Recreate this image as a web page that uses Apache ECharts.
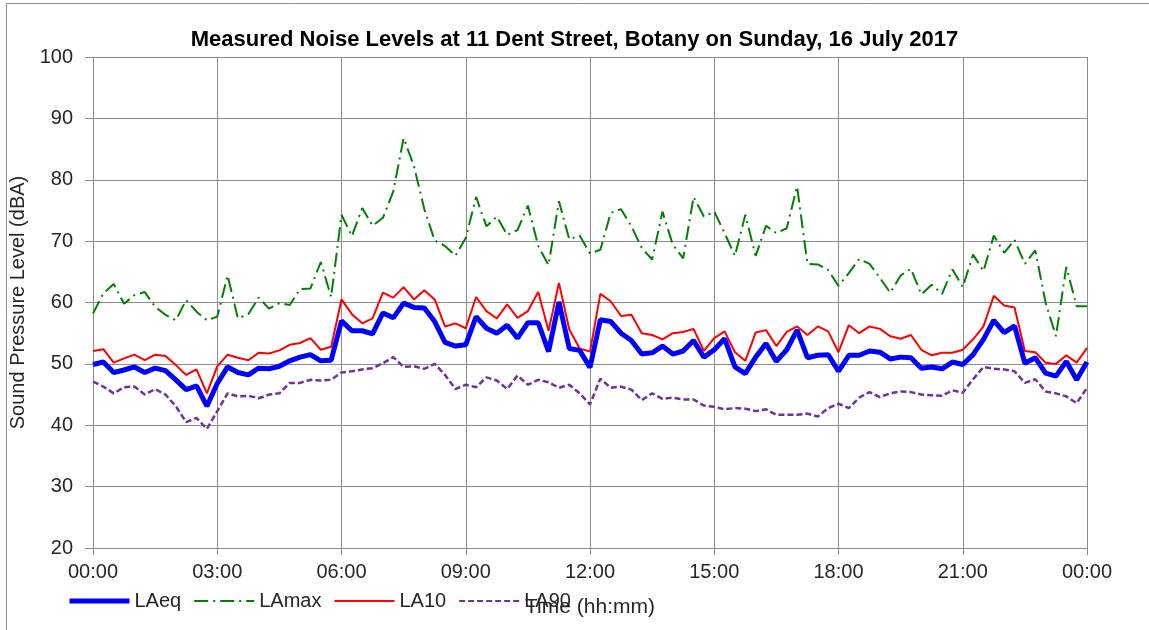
<!DOCTYPE html>
<html><head><meta charset="utf-8">
<script src="https://cdn.jsdelivr.net/npm/echarts@6/dist/echarts.min.js"></script>
<style>html,body{margin:0;padding:0;background:#fff}#c{width:1149px;height:630px}</style>
</head><body><div id="c"></div>
<script>
const times = ["00:00","00:15","00:30","00:45","01:00","01:15","01:30","01:45","02:00","02:15","02:30","02:45",
"03:00","03:15","03:30","03:45","04:00","04:15","04:30","04:45","05:00","05:15","05:30","05:45",
"06:00","06:15","06:30","06:45","07:00","07:15","07:30","07:45","08:00","08:15","08:30","08:45",
"09:00","09:15","09:30","09:45","10:00","10:15","10:30","10:45","11:00","11:15","11:30","11:45",
"12:00","12:15","12:30","12:45","13:00","13:15","13:30","13:45","14:00","14:15","14:30","14:45",
"15:00","15:15","15:30","15:45","16:00","16:15","16:30","16:45","17:00","17:15","17:30","17:45",
"18:00","18:15","18:30","18:45","19:00","19:15","19:30","19:45","20:00","20:15","20:30","20:45",
"21:00","21:15","21:30","21:45","22:00","22:15","22:30","22:45","23:00","23:15","23:30","23:45","00:00"];

const laeq = [49.9,50.3,48.6,49.0,49.5,48.6,49.3,48.9,47.4,45.8,46.4,43.1,46.8,49.5,48.6,48.2,49.3,49.2,49.6,50.5,51.1,51.5,50.5,50.6,
57.0,55.4,55.4,54.9,58.3,57.5,59.9,59.2,59.1,56.9,53.5,52.9,53.1,57.7,55.8,55.0,56.3,54.2,56.7,56.7,52.0,60.1,52.5,52.2,
49.4,57.2,56.9,55.0,53.8,51.6,51.8,52.9,51.6,52.1,53.8,51.1,52.3,54.1,49.5,48.4,51.1,53.3,50.4,52.3,55.5,51.0,51.4,51.5,
48.8,51.4,51.4,52.1,51.9,50.8,51.1,51.0,49.3,49.5,49.2,50.3,49.9,51.5,54.0,57.1,55.1,56.2,50.1,51.0,48.5,48.0,50.4,47.4,50.3];

const lamax = [58.2,61.5,63.0,59.8,61.2,61.7,59.3,58.0,57.1,60.4,58.5,57.1,57.7,64.4,57.4,58.1,60.8,59.0,59.9,59.6,62.2,62.3,66.6,60.9,
74.3,70.8,75.4,72.5,73.8,78.1,86.8,82.2,75.2,70.1,69.2,67.6,70.5,77.2,72.4,74.0,71.0,71.8,75.8,69.2,66.1,76.5,70.3,70.9,
68.0,68.6,74.6,75.2,72.4,68.9,67.0,74.8,69.4,67.2,77.2,74.0,74.8,71.3,67.6,74.3,67.6,72.5,71.3,72.1,78.9,66.3,66.2,65.3,
62.7,64.8,67.1,66.3,64.0,61.6,64.4,65.5,61.3,62.9,61.4,65.4,62.5,67.8,65.1,70.9,68.1,70.2,66.3,68.5,60.0,54.5,65.8,59.4,59.4];

const la10 = [52.1,52.4,50.2,50.9,51.5,50.6,51.5,51.3,49.8,48.2,49.1,45.2,49.6,51.5,51.0,50.6,51.8,51.7,52.2,53.1,53.4,54.2,52.3,52.8,
60.5,58.1,56.6,57.4,61.6,60.8,62.5,60.5,62.0,60.5,56.1,56.6,55.8,60.9,58.6,57.4,59.7,57.5,58.6,61.7,55.4,63.2,55.6,52.5,
52.0,61.4,60.2,57.8,58.0,55.0,54.7,54.0,55.0,55.2,55.7,52.1,54.2,55.3,51.9,50.5,55.1,55.5,52.9,55.2,56.1,54.7,56.1,55.3,
51.9,56.3,55.0,56.1,55.7,54.5,54.1,54.7,52.3,51.4,51.8,51.8,52.3,54.0,56.1,61.1,59.5,59.2,52.1,51.9,50.2,50.0,51.4,50.2,52.6];

const la90 = [47.1,46.3,45.2,46.2,46.3,45.0,45.9,45.0,43.1,40.5,41.2,39.4,42.3,45.2,44.7,44.8,44.4,45.0,45.2,46.9,46.9,47.4,47.3,47.4,
48.6,48.8,49.1,49.3,50.1,51.1,49.5,49.6,49.2,50.0,48.2,45.9,46.6,46.2,47.8,47.3,45.9,48.1,46.6,47.4,47.0,46.1,46.6,45.2,
43.4,47.6,46.1,46.3,45.8,44.1,45.2,44.3,44.5,44.2,44.2,43.2,43.0,42.6,42.8,42.7,42.3,42.6,41.7,41.7,41.7,41.9,41.4,42.8,
43.5,42.8,44.5,45.4,44.6,45.2,45.5,45.4,45.0,44.9,44.8,45.7,45.3,47.5,49.5,49.2,49.1,48.8,46.9,47.5,45.5,45.2,44.7,43.6,46.1];

const yTicks = {min: 20, max: 100, step: 10};
const titleText = 'Measured Noise Levels at 11 Dent Street, Botany on Sunday, 16 July 2017';

const FONT = '"Liberation Sans", Arial, sans-serif';
const GRID = '#8c8c8c';
const TXT = '#262626';

const chart = echarts.init(document.getElementById('c'), null, {renderer: 'canvas'});
chart.setOption({
  animation: false,
  backgroundColor: '#ffffff',
  textStyle: {fontFamily: FONT},
  title: {
    text: titleText, left: 'center', top: 24,
    textStyle: {fontFamily: FONT, fontWeight: 'bold', fontSize: 22, color: '#000'}
  },
  graphic: [{
    type: 'rect', shape: {x: 6.5, y: 3.5, width: 1300, height: 800},
    style: {fill: 'none', stroke: '#8c8c8c', lineWidth: 1}, silent: true, z: -1
  }],
  grid: {left: 93, right: 62, top: 57, bottom: 82},
  legend: {
    left: 62, top: 586, itemWidth: 60, itemHeight: 14, itemGap: 12,
    data: [
      {name: 'LAeq', lineStyle: {width: 5}},
      {name: 'LAmax'},
      {name: 'LA10'},
      {name: 'LA90'}
    ],
    itemStyle: {opacity: 0},
    textStyle: {fontFamily: FONT, fontSize: 20, color: TXT}
  },
  xAxis: {
    type: 'category', data: times, boundaryGap: false,
    name: 'Time (hh:mm)', nameLocation: 'middle', nameGap: 49,
    nameTextStyle: {fontFamily: FONT, fontSize: 21, color: TXT},
    axisLine: {lineStyle: {color: GRID, width: 1}},
    axisTick: {show: true, interval: 11, length: 7, lineStyle: {color: GRID}},
    axisLabel: {interval: 11, margin: 14, fontFamily: FONT, fontSize: 20, color: TXT},
    splitLine: {show: true, interval: 11, lineStyle: {color: GRID, width: 1}}
  },
  yAxis: {
    type: 'value', min: yTicks.min, max: yTicks.max, interval: yTicks.step,
    name: 'Sound Pressure Level (dBA)', nameLocation: 'middle', nameGap: 55,
    nameTextStyle: {fontFamily: FONT, fontSize: 20, color: TXT},
    axisLine: {show: true, lineStyle: {color: GRID, width: 1}},
    axisTick: {show: true, length: 8, lineStyle: {color: GRID}},
    axisLabel: {margin: 20, fontFamily: FONT, fontSize: 20, color: TXT},
    splitLine: {show: true, lineStyle: {color: GRID, width: 1}}
  },
  series: [
    {name: 'LAeq', type: 'line', data: laeq, symbol: 'none', z: 5,
     lineStyle: {color: '#0000ff', width: 5}, itemStyle: {color: '#0000ff'}},
    {name: 'LAmax', type: 'line', data: lamax, symbol: 'none', z: 3,
     lineStyle: {color: '#008000', width: 2, type: [14, 5, 2, 5]}, itemStyle: {color: '#008000'}},
    {name: 'LA10', type: 'line', data: la10, symbol: 'none', z: 4,
     lineStyle: {color: '#ff0000', width: 2}, itemStyle: {color: '#ff0000'}},
    {name: 'LA90', type: 'line', data: la90, symbol: 'none', z: 2,
     lineStyle: {color: '#7030a0', width: 2.5, type: [6, 3]}, itemStyle: {color: '#7030a0'}}
  ]
});
</script>
</body></html>
